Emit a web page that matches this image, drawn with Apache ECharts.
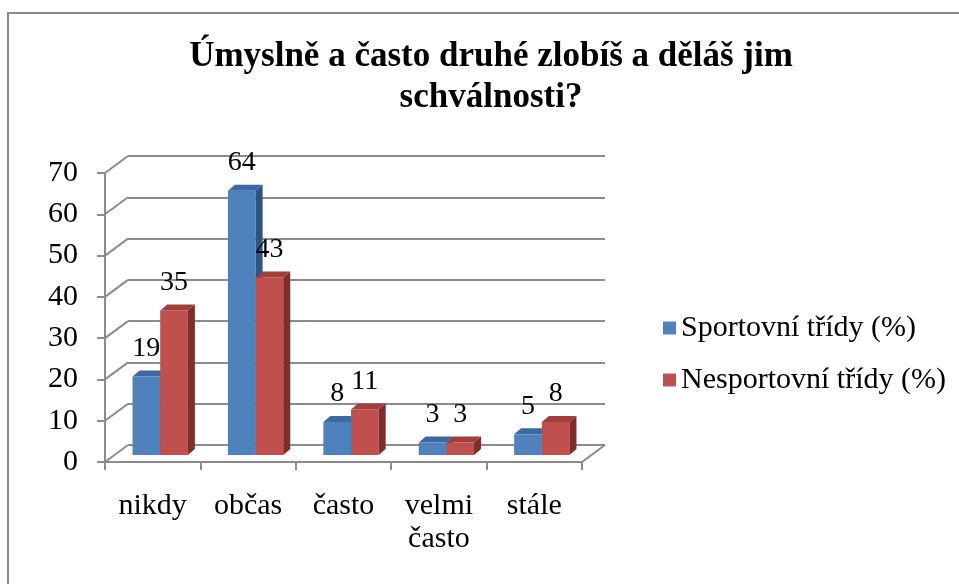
<!DOCTYPE html>
<html>
<head>
<meta charset="utf-8">
<script src="https://cdn.jsdelivr.net/npm/echarts@6/dist/echarts.min.js"></script>
<style>
  html, body { margin: 0; padding: 0; background: #fff; }
  #chart { width: 959px; height: 584px; }
</style>
</head>
<body>
<div id="chart"></div>
<script>
// data
var categories = ['nikdy', 'občas', 'často', 'velmi\nčasto', 'stále']
var sportovni = [19, 64, 8, 3, 5]
var nesportovni = [35, 43, 11, 3, 8]
var seriesNames = ['Sportovní třídy (%)', 'Nesportovní třídy (%)']
var yTicks = [0, 10, 20, 30, 40, 50, 60, 70]

var FONT = 'Liberation Serif'
var GRID_COLOR = '#8c8c8c'
var DEPTH_X = 23 // depth of the 3d box
var DEPTH_Y = 17
var BAR_DX = 7 // depth of a bar
var BAR_DY = 6

var faces = [
  { front: '#4f81bd', top: '#3c69a1', side: '#2f5382' },
  { front: '#c0504d', top: '#a23f3c', side: '#7b2e2c' }
]

// 3d bar: front face, top face, side face, label
function barRenderer (s) {
  return function (params, api) {
    var idx = api.value(0)
    var val = api.value(1)
    var top = api.coord([idx, val])
    var base = api.coord([idx, 0])
    var bw = api.size([1, 0])[0]
    var w = bw * 0.29
    var x0 = top[0] - w - BAR_DX / 2 + s * w
    var x1 = x0 + w
    var yt = top[1]
    var yb = base[1]
    var c = faces[s]
    return {
      type: 'group',
      children: [
        { type: 'rect', shape: { x: x0, y: yt, width: w, height: yb - yt }, style: { fill: c.front } },
        { type: 'polygon', shape: { points: [[x0, yt], [x0 + BAR_DX, yt - BAR_DY], [x1 + BAR_DX, yt - BAR_DY], [x1, yt]] }, style: { fill: c.top } },
        { type: 'polygon', shape: { points: [[x1, yt], [x1 + BAR_DX, yt - BAR_DY], [x1 + BAR_DX, yb - BAR_DY], [x1, yb]] }, style: { fill: c.side } },
        {
          type: 'text',
          style: {
            x: x0 + w / 2,
            y: yt - 28,
            text: String(val),
            fill: '#000',
            font: '28px "' + FONT + '"',
            align: 'center',
            verticalAlign: 'middle'
          }
        }
      ]
    }
  }
}

// diagonal lines from the front axis to the back wall
function depthRenderer (params, api) {
  var p = api.coord([0, api.value(0)])
  var x = params.coordSys.x
  var children = [{
    type: 'line',
    shape: { x1: x, y1: p[1], x2: x + DEPTH_X, y2: p[1] - DEPTH_Y },
    style: { stroke: GRID_COLOR, lineWidth: 2 }
  }]
  if (api.value(0) === 0) {
    var xr = x + params.coordSys.width
    children.push({
      type: 'line',
      shape: { x1: xr, y1: p[1], x2: xr + DEPTH_X, y2: p[1] - DEPTH_Y },
      style: { stroke: GRID_COLOR, lineWidth: 2 }
    })
  }
  return { type: 'group', children: children }
}

var chart = echarts.init(document.getElementById('chart'))

var gridW = 477
var gridH = 289

chart.setOption({
  backgroundColor: '#fff',
  animation: false,
  title: {
    text: 'Úmyslně a často druhé zlobíš a děláš jim\nschválnosti?',
    top: 31,
    left: 486,
    textAlign: 'center',
    textStyle: {
      fontFamily: FONT,
      fontWeight: 'bold',
      fontSize: 35,
      lineHeight: 41,
      color: '#000'
    }
  },
  graphic: [{
    type: 'rect',
    shape: { x: 8, y: 13, width: 960, height: 600 },
    style: { fill: 'none', stroke: '#8a8a8a', lineWidth: 2 },
    silent: true
  }],
  legend: {
    orient: 'vertical',
    left: 663,
    top: 313,
    padding: 0,
    icon: 'rect',
    itemWidth: 13,
    itemHeight: 13,
    itemGap: 22,
    textStyle: { fontFamily: FONT, fontSize: 30, lineHeight: 30, color: '#000' },
    data: seriesNames
  },
  grid: [
    { left: 105, top: 173, width: gridW, height: gridH }, // front plane
    { left: 105 + DEPTH_X, top: 173 - DEPTH_Y, width: gridW, height: gridH }, // back wall
    { left: 116, top: 166, width: gridW, height: gridH } // bars
  ],
  xAxis: [
    {
      gridIndex: 0,
      type: 'category',
      data: categories,
      axisLine: { lineStyle: { color: GRID_COLOR, width: 2 } },
      axisTick: { show: true, length: 8, lineStyle: { color: GRID_COLOR, width: 2 } },
      axisLabel: { margin: 28, fontFamily: FONT, fontSize: 30, lineHeight: 33, color: '#000', interval: 0 }
    },
    { gridIndex: 1, type: 'category', data: categories, show: false },
    { gridIndex: 2, type: 'category', data: categories, show: false }
  ],
  yAxis: [
    {
      gridIndex: 0,
      type: 'value',
      min: 0,
      max: 70,
      interval: 10,
      axisLine: { show: true, lineStyle: { color: GRID_COLOR, width: 2 } },
      axisTick: { show: true, length: 8, lineStyle: { color: GRID_COLOR, width: 2 } },
      axisLabel: { margin: 27, fontFamily: FONT, fontSize: 30, color: '#000' },
      splitLine: { show: false }
    },
    {
      gridIndex: 1,
      type: 'value',
      min: 0,
      max: 70,
      interval: 10,
      axisLine: { show: false },
      axisTick: { show: false },
      axisLabel: { show: false },
      splitLine: { show: true, lineStyle: { color: GRID_COLOR, width: 2 } }
    },
    { gridIndex: 2, type: 'value', min: 0, max: 70, interval: 10, show: false, splitLine: { show: false } }
  ],
  series: [
    {
      type: 'custom',
      xAxisIndex: 0,
      yAxisIndex: 0,
      silent: true,
      renderItem: depthRenderer,
      data: yTicks.map(function (v) { return [v] }),
      encode: { y: 0 },
      z: 1
    },
    {
      name: seriesNames[0],
      type: 'custom',
      xAxisIndex: 2,
      yAxisIndex: 2,
      itemStyle: { color: faces[0].front },
      renderItem: barRenderer(0),
      data: sportovni.map(function (v, i) { return [i, v] }),
      z: 3
    },
    {
      name: seriesNames[1],
      type: 'custom',
      xAxisIndex: 2,
      yAxisIndex: 2,
      itemStyle: { color: faces[1].front },
      renderItem: barRenderer(1),
      data: nesportovni.map(function (v, i) { return [i, v] }),
      z: 4
    }
  ]
})
</script>
</body>
</html>
